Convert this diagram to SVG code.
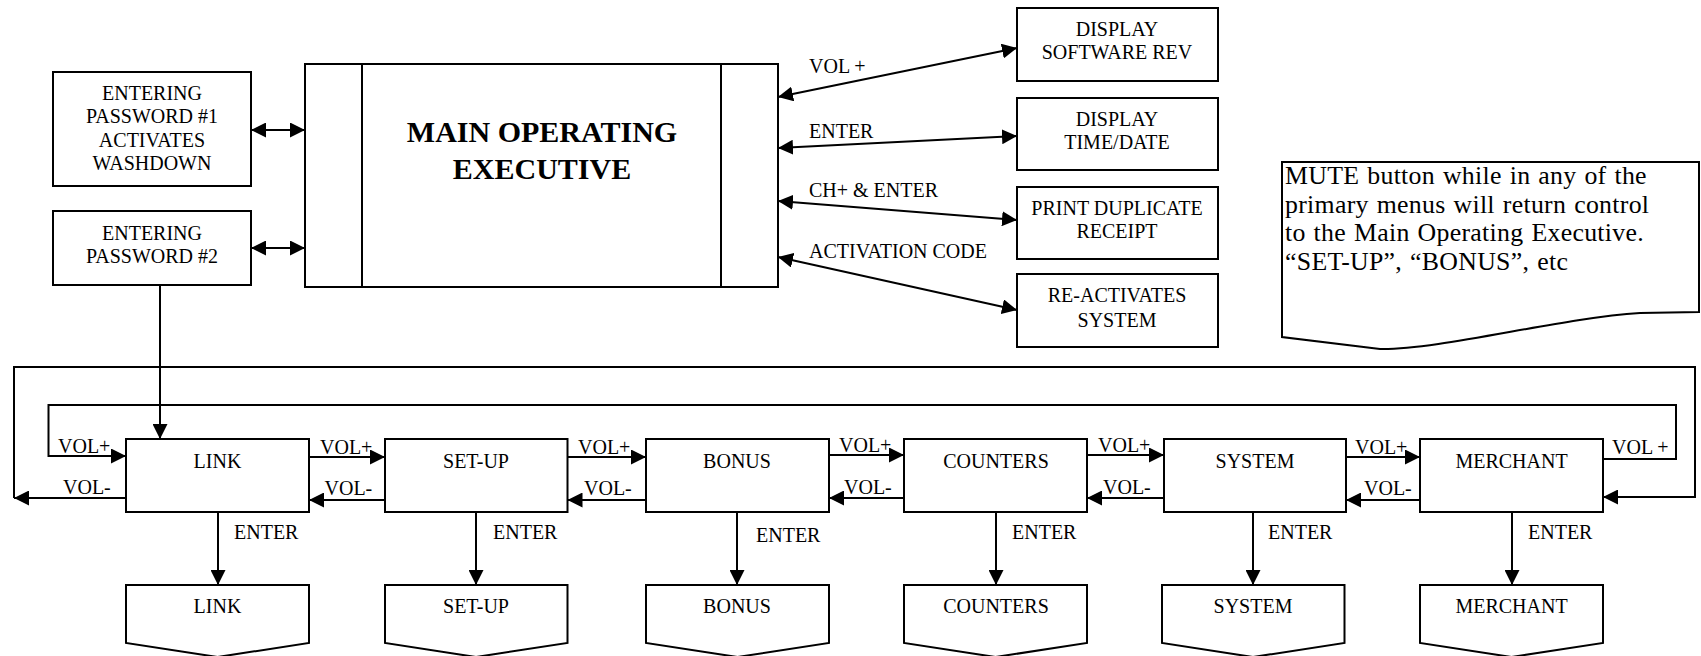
<svg xmlns="http://www.w3.org/2000/svg" width="1701" height="656" viewBox="0 0 1701 656">
<defs>
<marker id="ah" markerUnits="userSpaceOnUse" markerWidth="15" markerHeight="15" refX="14" refY="7" orient="auto-start-reverse" viewBox="0 0 14 14">
<path d="M0,0 L14,7 L0,14 z" fill="#000"/>
</marker>
<style>
.b{fill:#fff;stroke:#000;stroke-width:2}
.l{fill:none;stroke:#000;stroke-width:2}
.a{marker-end:url(#ah)}
.d{marker-start:url(#ah);marker-end:url(#ah)}
text{font-family:"Liberation Serif","Times New Roman",serif;font-size:20px;fill:#000}
.c{text-anchor:middle}
.m{font-size:30px;font-weight:bold}
.n{font-size:25.8px;word-spacing:1.2px;letter-spacing:0.3px}
</style>
</defs>
<rect width="1701" height="656" fill="#fff"/>

<g id="connectors">
<line class="l d" x1="251" y1="130" x2="305" y2="130"/>
<line class="l d" x1="251" y1="248" x2="305" y2="248"/>
<line class="l d" x1="778" y1="97" x2="1017" y2="48"/>
<line class="l d" x1="778" y1="148" x2="1017" y2="136"/>
<line class="l d" x1="778" y1="201" x2="1017" y2="220"/>
<line class="l d" x1="778" y1="257" x2="1017" y2="310"/>
<line class="l a" x1="160" y1="285" x2="160" y2="439"/>
<line class="l a" x1="126" y1="498" x2="14" y2="498"/>
<polyline class="l a" points="14,498 14,367 1695,367 1695,497 1603,497"/>
<polyline class="l a" points="1603,459 1676,459 1676,405 48.5,405 48.5,456 126,456"/>
<line class="l a" x1="309" y1="457" x2="385" y2="457"/>
<line class="l a" x1="385" y1="500" x2="309" y2="500"/>
<line class="l a" x1="567.5" y1="457" x2="646" y2="457"/>
<line class="l a" x1="646" y1="500" x2="567.5" y2="500"/>
<line class="l a" x1="829" y1="455" x2="904" y2="455"/>
<line class="l a" x1="904" y1="498" x2="829" y2="498"/>
<line class="l a" x1="1087" y1="455" x2="1164" y2="455"/>
<line class="l a" x1="1164" y1="498" x2="1087" y2="498"/>
<line class="l a" x1="1346" y1="457" x2="1420" y2="457"/>
<line class="l a" x1="1420" y1="500" x2="1346" y2="500"/>
<line class="l a" x1="218" y1="512" x2="218" y2="585"/>
<line class="l a" x1="476" y1="512" x2="476" y2="585"/>
<line class="l a" x1="737" y1="512" x2="737" y2="585"/>
<line class="l a" x1="996" y1="512" x2="996" y2="585"/>
<line class="l a" x1="1253" y1="512" x2="1253" y2="585"/>
<line class="l a" x1="1512" y1="512" x2="1512" y2="585"/>
<text x="809" y="73">VOL +</text>
<text x="809" y="138">ENTER</text>
<text x="809" y="197">CH+ &amp; ENTER</text>
<text x="809" y="258">ACTIVATION CODE</text>
<text x="58" y="453">VOL+</text>
<text x="63" y="494">VOL-</text>
<text x="320" y="454">VOL+</text>
<text x="324.5" y="495">VOL-</text>
<text x="578" y="454">VOL+</text>
<text x="584" y="495">VOL-</text>
<text x="839" y="452">VOL+</text>
<text x="844" y="494">VOL-</text>
<text x="1098" y="452">VOL+</text>
<text x="1103" y="494">VOL-</text>
<text x="1355" y="454">VOL+</text>
<text x="1364" y="495">VOL-</text>
<text x="1612" y="454">VOL +</text>
<text x="234" y="539">ENTER</text>
<text x="493" y="539">ENTER</text>
<text x="756" y="542">ENTER</text>
<text x="1012" y="539">ENTER</text>
<text x="1268" y="539">ENTER</text>
<text x="1528" y="539">ENTER</text>
</g>

<g id="pw1">
<rect class="b" x="53" y="72" width="198" height="114"/>
<text class="c" x="152" y="100">ENTERING</text>
<text class="c" x="152" y="123">PASSWORD #1</text>
<text class="c" x="152" y="147">ACTIVATES</text>
<text class="c" x="152" y="170">WASHDOWN</text>
</g>
<g id="pw2">
<rect class="b" x="53" y="211" width="198" height="74"/>
<text class="c" x="152" y="240">ENTERING</text>
<text class="c" x="152" y="263">PASSWORD #2</text>
</g>
<g id="main">
<rect class="b" x="305" y="64" width="473" height="223"/>
<line class="l" x1="362" y1="64" x2="362" y2="287"/>
<line class="l" x1="721" y1="64" x2="721" y2="287"/>
<text class="c m" x="542" y="142">MAIN OPERATING</text>
<text class="c m" x="542" y="179">EXECUTIVE</text>
</g>
<g id="swrev">
<rect class="b" x="1017" y="8" width="201" height="73"/>
<text class="c" x="1117" y="36">DISPLAY</text>
<text class="c" x="1117" y="59">SOFTWARE REV</text>
</g>
<g id="timedate">
<rect class="b" x="1017" y="98" width="201" height="72"/>
<text class="c" x="1117" y="126">DISPLAY</text>
<text class="c" x="1117" y="149">TIME/DATE</text>
</g>
<g id="receipt">
<rect class="b" x="1017" y="187" width="201" height="72"/>
<text class="c" x="1117" y="215">PRINT DUPLICATE</text>
<text class="c" x="1117" y="238">RECEIPT</text>
</g>
<g id="reactivate">
<rect class="b" x="1017" y="274" width="201" height="73"/>
<text class="c" x="1117" y="302">RE-ACTIVATES</text>
<text class="c" x="1117" y="327">SYSTEM</text>
</g>
<g id="note">
<path class="b" d="M1282,162 L1699,162 L1699,312 L1640,313 C1560,318 1440,350 1380,349 L1282,337 Z"/>
<text class="n" x="1285" y="184">MUTE button while in any of the</text>
<text class="n" x="1285" y="212.7">primary menus will return control</text>
<text class="n" x="1285" y="241.4">to the Main Operating Executive.</text>
<text class="n" x="1285" y="270">“SET-UP”, “BONUS”, etc</text>
</g>

<g id="link"><rect class="b" x="126" y="439" width="183" height="73"/><text class="c" x="217.5" y="468">LINK</text></g>
<g id="setup"><rect class="b" x="385" y="439" width="182.5" height="73"/><text class="c" x="476" y="468">SET-UP</text></g>
<g id="bonus"><rect class="b" x="646" y="439" width="183" height="73"/><text class="c" x="737" y="468">BONUS</text></g>
<g id="counters"><rect class="b" x="904" y="439" width="183" height="73"/><text class="c" x="996" y="468">COUNTERS</text></g>
<g id="system"><rect class="b" x="1164" y="439" width="182" height="73"/><text class="c" x="1255" y="468">SYSTEM</text></g>
<g id="merchant"><rect class="b" x="1420" y="439" width="183" height="73"/><text class="c" x="1511.5" y="468">MERCHANT</text></g>

<g id="link-page"><path class="b" d="M126,585 H309 V643 L217.5,657 L126,643 Z"/><text class="c" x="217.5" y="613">LINK</text></g>
<g id="setup-page"><path class="b" d="M385,585 H567.5 V643 L476,657 L385,643 Z"/><text class="c" x="476" y="613">SET-UP</text></g>
<g id="bonus-page"><path class="b" d="M646,585 H829 V643 L737.5,657 L646,643 Z"/><text class="c" x="737" y="613">BONUS</text></g>
<g id="counters-page"><path class="b" d="M904,585 H1087 V643 L995.5,657 L904,643 Z"/><text class="c" x="996" y="613">COUNTERS</text></g>
<g id="system-page"><path class="b" d="M1162,585 H1344.5 V643 L1253,657 L1162,643 Z"/><text class="c" x="1253" y="613">SYSTEM</text></g>
<g id="merchant-page"><path class="b" d="M1420,585 H1603 V643 L1511.5,657 L1420,643 Z"/><text class="c" x="1511.5" y="613">MERCHANT</text></g>
</svg>
